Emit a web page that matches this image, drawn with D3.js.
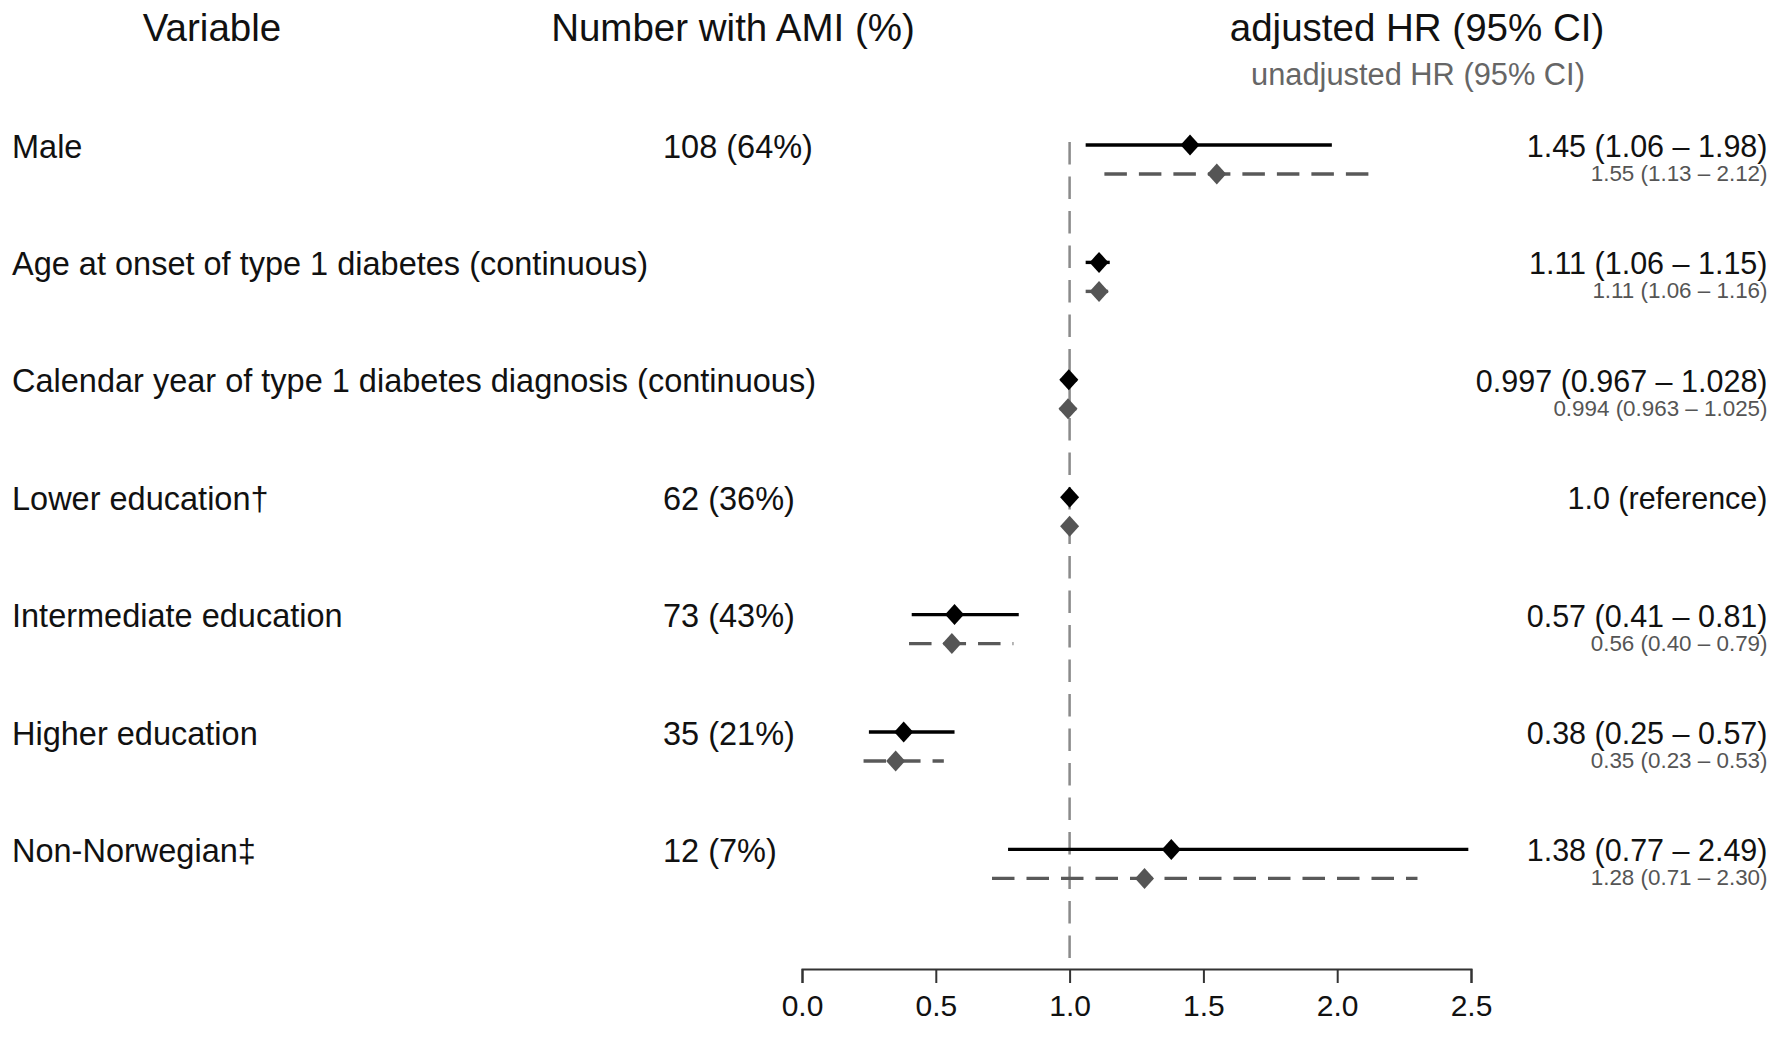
<!DOCTYPE html>
<html><head><meta charset="utf-8">
<script src="https://cdn.jsdelivr.net/npm/d3@7"></script>
<style>
html,body{margin:0;padding:0;background:#fff;}
svg{display:block;font-family:"Liberation Sans",Arial,sans-serif;}
</style></head>
<body><svg id="chart" width="1770" height="1043"></svg>
<script>
const categories = ["Male","Age at onset of type 1 diabetes (continuous)","Calendar year of type 1 diabetes diagnosis (continuous)","Lower education\u2020","Intermediate education","Higher education","Non-Norwegian\u2021"];
const numberWithAMI = ["108 (64%)","","","62 (36%)","73 (43%)","35 (21%)","12 (7%)"];
const adjHR   = [1.45, 1.11, 0.997, 1.0, 0.57, 0.38, 1.38];
const adjLow  = [1.06, 1.06, 0.967, null, 0.41, 0.25, 0.77];
const adjHigh = [1.98, 1.15, 1.028, null, 0.81, 0.57, 2.49];
const unadjHR   = [1.55, 1.11, 0.994, 1.0, 0.56, 0.35, 1.28];
const unadjLow  = [1.13, 1.06, 0.963, null, 0.40, 0.23, 0.71];
const unadjHigh = [2.12, 1.16, 1.025, null, 0.79, 0.53, 2.30];
const adjLabels = ["1.45 (1.06 \u2013 1.98)","1.11 (1.06 \u2013 1.15)","0.997 (0.967 \u2013 1.028)","1.0 (reference)","0.57 (0.41 \u2013 0.81)","0.38 (0.25 \u2013 0.57)","1.38 (0.77 \u2013 2.49)"];
const unadjLabels = ["1.55 (1.13 \u2013 2.12)","1.11 (1.06 \u2013 1.16)","0.994 (0.963 \u2013 1.025)","","0.56 (0.40 \u2013 0.79)","0.35 (0.23 \u2013 0.53)","1.28 (0.71 \u2013 2.30)"];
const xTicks = [0, 0.5, 1.0, 1.5, 2.0, 2.5];
const headers = ["Variable","Number with AMI (%)","adjusted HR (95% CI)"];
const subHeader = "unadjusted HR (95% CI)";

const svg = d3.select("#chart");
const x = d3.scaleLinear().domain([0, 2.5]).range([802, 1471]);
const y = d3.scalePoint().domain(categories).range([145, 849.4]);
const unOff = 29;
const grayDark = "#555555";

const rows = categories.map((c, i) => ({
  cat: c, num: numberWithAMI[i],
  a: adjHR[i], al: adjLow[i], ah: adjHigh[i],
  u: unadjHR[i], ul: unadjLow[i], uh: unadjHigh[i],
  aLab: adjLabels[i], uLab: unadjLabels[i]
}));

// headers
svg.append("text").attr("x", 212).attr("y", 40.5).attr("text-anchor","middle")
  .attr("font-size", 38.5).attr("fill","#111").text(headers[0]);
svg.append("text").attr("x", 733).attr("y", 40.5).attr("text-anchor","middle")
  .attr("font-size", 38.5).attr("fill","#111").text(headers[1]);
svg.append("text").attr("x", 1417).attr("y", 40.5).attr("text-anchor","middle")
  .attr("font-size", 38.5).attr("fill","#111").text(headers[2]);
svg.append("text").attr("x", 1418).attr("y", 85).attr("text-anchor","middle")
  .attr("font-size", 30.8).attr("fill","#666").text(subHeader);

// reference line
svg.append("line").attr("x1", x(1)).attr("x2", x(1)).attr("y1", 142).attr("y2", 968)
  .attr("stroke", "#8a8a8a").attr("stroke-width", 2.5).attr("stroke-dasharray", "22.5,12");

// axis
const axis = d3.axisBottom(x).tickValues(xTicks).tickFormat(d3.format(".1f"))
  .tickSize(14).tickSizeOuter(14).tickPadding(12);
const gAx = svg.append("g").attr("transform", "translate(0,969)").call(axis);
gAx.select(".domain").attr("stroke", "#333").attr("stroke-width", 2);
gAx.selectAll(".tick line").attr("stroke", "#333").attr("stroke-width", 2);
gAx.selectAll(".tick text").attr("font-size", 30).attr("fill", "#111")
  .attr("font-family", "'Liberation Sans',Arial,sans-serif");

// row labels
svg.selectAll("text.lab").data(rows).join("text").attr("class","lab")
  .attr("x", 12).attr("y", d => y(d.cat) + 12.5).attr("font-size", 32.5).attr("fill","#111")
  .text(d => d.cat);
svg.selectAll("text.num").data(rows).join("text").attr("class","num")
  .attr("x", 663).attr("y", d => y(d.cat) + 12.5).attr("font-size", 32.5).attr("fill","#111")
  .text(d => d.num);
svg.selectAll("text.alab").data(rows).join("text").attr("class","alab")
  .attr("x", 1767.5).attr("y", d => y(d.cat) + 12).attr("text-anchor","end")
  .attr("font-size", 30.5).attr("fill","#111").text(d => d.aLab);
svg.selectAll("text.ulab").data(rows).join("text").attr("class","ulab")
  .attr("x", 1767.5).attr("y", d => y(d.cat) + unOff + 7).attr("text-anchor","end")
  .attr("font-size", 22.4).attr("fill", grayDark).text(d => d.uLab);

// CI lines
svg.selectAll("line.aci").data(rows.filter(d => d.al != null)).join("line").attr("class","aci")
  .attr("x1", d => x(d.al)).attr("x2", d => x(d.ah))
  .attr("y1", d => y(d.cat)).attr("y2", d => y(d.cat))
  .attr("stroke", "#000").attr("stroke-width", 3.4);
svg.selectAll("line.uci").data(rows.filter(d => d.ul != null)).join("line").attr("class","uci")
  .attr("x1", d => x(d.ul)).attr("x2", d => x(d.uh))
  .attr("y1", d => y(d.cat) + unOff).attr("y2", d => y(d.cat) + unOff)
  .attr("stroke", "#595959").attr("stroke-width", 3.4).attr("stroke-dasharray", "22.5,12");

// diamonds
function diamond(cx, cy, hw, hh) {
  return `M${cx},${cy - hh}L${cx + hw},${cy}L${cx},${cy + hh}L${cx - hw},${cy}Z`;
}
svg.selectAll("path.ad").data(rows).join("path").attr("class","ad")
  .attr("d", d => diamond(x(d.a), y(d.cat), 9.5, 10.5)).attr("fill", "#000");
svg.selectAll("path.ud").data(rows).join("path").attr("class","ud")
  .attr("d", d => diamond(x(d.u), y(d.cat) + unOff, 9.5, 10.5)).attr("fill", grayDark);
</script></body></html>
